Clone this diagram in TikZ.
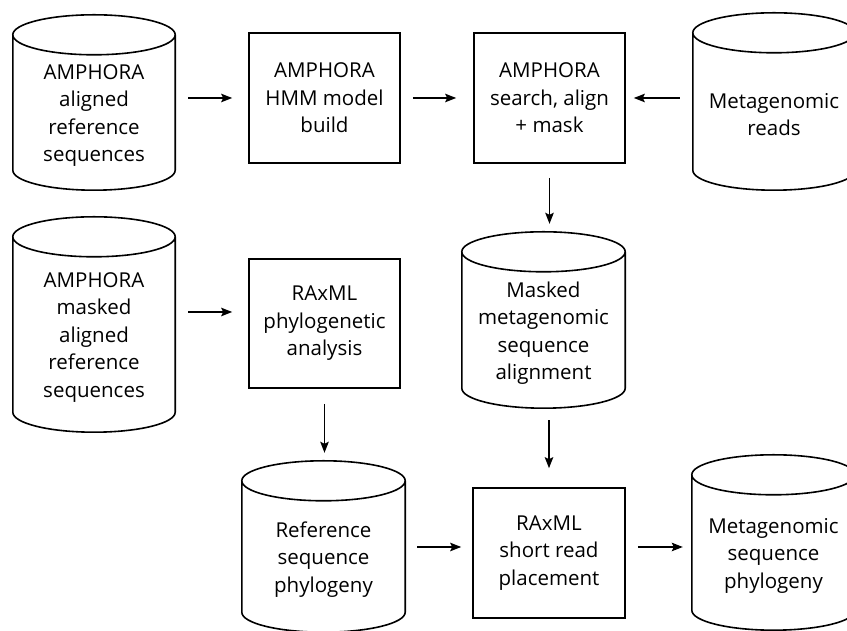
\documentclass[tikz,border=0pt]{standalone}
\usepackage{fontspec}
\setmainfont{Open Sans}
\usetikzlibrary{arrows.meta,positioning,calc}

\begin{document}
\begin{tikzpicture}[
    x=1pt, y=1pt,
    box/.style={rectangle, draw=black, line width=1.6pt, align=center, minimum width=151pt, minimum height=130pt, font=\fontsize{20.5}{27.5}\selectfont},
    db/.style={rectangle, align=center, inner sep=0pt, minimum width=162pt, font=\fontsize{20.5}{27.5}\selectfont},
    dbline/.style={line width=1.6pt, draw=black},
    arrow/.style={-{Stealth[length=11pt, width=8.5pt, inset=2pt]}, line width=1.4pt, draw=black}
]
\useasboundingbox (0,0) rectangle (847,631);

% database bodies (below the top ellipse)
\node[db, minimum height=149pt] (refaln) at (94,515.5) {AMPHORA\\ aligned\\ reference\\ sequences};
\node[db, minimum height=151pt] (reads) at (774,516.5) {Metagenomic\\ reads};
\node[db, minimum height=189pt] (refmask) at (94,293.5) {AMPHORA\\ masked\\ aligned\\ reference\\ sequences};
\node[db, minimum width=163pt, minimum height=150pt] (maskaln) at (543.5,298) {Masked\\ metagenomic\\ sequence\\ alignment};
\node[db, minimum width=163pt, minimum height=145pt] (refphy) at (323.5,71.5) {Reference\\ sequence\\ phylogeny};
\node[db, minimum width=163pt, minimum height=149pt] (metaphy) at (773.5,75.5) {Metagenomic\\ sequence\\ phylogeny};

% process boxes
\node[box] (hmm) at (324.5,533) {AMPHORA\\ HMM model\\ build};
\node[box] (search) at (549.5,533) {AMPHORA\\ search, align\\ + mask};
\node[box, minimum height=129pt] (raxml) at (324.5,307.5) {RAxML\\ phylogenetic\\ analysis};
\node[box, minimum width=152pt] (place) at (549,78) {RAxML\\ short read\\ placement};

% cylinder outlines
\foreach \c in {refaln,reads,refmask,maskaln,refphy,metaphy}{
  \draw[dbline] let \p1=(\c.north west), \p2=(\c.south east), \n1={(\x2-\x1)/2} in
    (\x1,\y1+6pt) -- (\x1,\y2+20pt) arc[start angle=180, end angle=360, x radius=\n1, y radius=20pt] -- (\x2,\y1+6pt)
    (\x1+\n1,\y1+6pt) ellipse[x radius=\n1, y radius=20pt];
}

% top row
\draw[arrow] ($(refaln.east |- hmm.west)+(13,0)$) -- ($(hmm.west)+(-16,0)$);
\draw[arrow] ($(hmm.east)+(12,0)$) -- ($(search.west)+(-17,0)$);
\draw[arrow] ($(reads.west |- search.east)+(-13,0)$) -- ($(search.east)+(8,0)$);
\draw[arrow] ($(search.south)+(0,-14)$) -- ($(search.south |- maskaln.north)+(0,34)$);
% middle row
\draw[arrow] ($(refmask.east |- raxml.west)+(13,11.5)$) -- ($(raxml.west)+(-16,11.5)$);
\draw[arrow] ($(raxml.south)+(0,-15)$) -- ($(raxml.south |- refphy.north)+(0,34)$);
\draw[arrow] ($(place.north |- maskaln.south)+(0,-12)$) -- ($(place.north)+(0,19)$);
% bottom row
\draw[arrow] ($(refphy.east |- place.west)+(12,6)$) -- ($(place.west)+(-11,6)$);
\draw[arrow] ($(place.east)+(12,6)$) -- ($(metaphy.west |- place.east)+(-9,6)$);
\end{tikzpicture}
\end{document}
